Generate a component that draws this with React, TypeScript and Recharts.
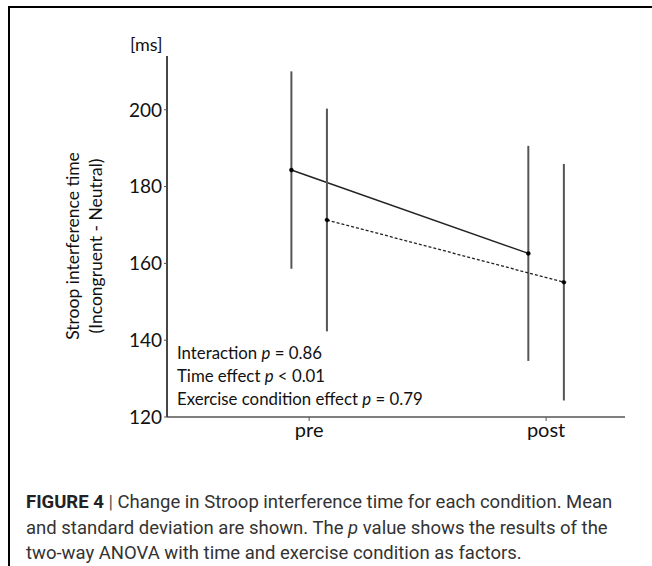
import { ComposedChart, Line, XAxis, YAxis, ErrorBar } from "recharts";

// values (ms)
const timeLabels = ["pre", "post"];
const timeIndex = [1, 2];
const exerciseMean = [184.3, 162.6];
const exerciseSd = [25.7, 28.0];
const controlMean = [171.3, 155.1];
const controlSd = [29.0, 30.8];
const yTicks = [120, 140, 160, 180, 200];

const dodge = 0.075;

const exerciseData = timeIndex.map((t, i) => ({ x: t - dodge, y: exerciseMean[i], sd: exerciseSd[i] }));
const controlData = timeIndex.map((t, i) => ({ x: t + dodge, y: controlMean[i], sd: controlSd[i] }));

const chartFont = "Lato, 'Open Sans', sans-serif";
const captionFont = "'Liberation Sans Narrow', Roboto, 'Liberation Sans', sans-serif";

export default function App() {
  return (
    <div style={{ position: "absolute", left: 0, top: 0, width: 652, height: 566, background: "#fff", overflow: "hidden" }}>
      {/* figure frame */}
      <div style={{ position: "absolute", left: 8, top: 6, width: 700, height: 600, borderLeft: "2px solid #000", borderTop: "2px solid #000" }} />

      <div style={{ position: "absolute", left: 0, top: 0 }}>
        <ComposedChart width={652} height={460} margin={{ top: 56, right: 27, left: 107, bottom: 13 }}>
          <XAxis
            type="number"
            dataKey="x"
            domain={[0.4, 2.333]}
            ticks={timeIndex}
            tickFormatter={(v: number) => timeLabels[v - 1]}
            allowDataOverflow
            height={30}
            axisLine={{ stroke: "#555", strokeWidth: 1.6 }}
            tickLine={{ stroke: "#555" }}
            tickSize={4}
            tick={{ fontSize: 20, fill: "#111", fontFamily: chartFont }}
          />
          <YAxis
            type="number"
            domain={[120, 214]}
            ticks={yTicks}
            allowDataOverflow
            width={60}
            axisLine={{ stroke: "#333", strokeWidth: 1.8 }}
            tickLine={{ stroke: "#555" }}
            tickSize={3}
            tickMargin={2}
            tick={{ fontSize: 19, fill: "#111", fontFamily: chartFont }}
          />
          <Line
            data={exerciseData}
            dataKey="y"
            stroke="#222"
            strokeWidth={1.5}
            dot={{ r: 2, fill: "#000", stroke: "#000", strokeWidth: 0.5 }}
            isAnimationActive={false}
          >
            <ErrorBar dataKey="sd" width={0} stroke="#555" strokeWidth={2} direction="y" />
          </Line>
          <Line
            data={controlData}
            dataKey="y"
            stroke="#222"
            strokeWidth={1.3}
            strokeDasharray="3 2"
            dot={{ r: 2, fill: "#000", stroke: "#000", strokeWidth: 0.5 }}
            isAnimationActive={false}
          >
            <ErrorBar dataKey="sd" width={0} stroke="#555" strokeWidth={2} direction="y" />
          </Line>
        </ComposedChart>
      </div>

      {/* unit */}
      <div style={{ position: "absolute", left: 130, top: 33, fontFamily: chartFont, fontSize: 18, color: "#111", lineHeight: "22px" }}>[ms]</div>

      {/* y axis title */}
      <div
        style={{
          position: "absolute",
          left: 84,
          top: 246,
          width: 260,
          transform: "translate(-50%, -50%) rotate(-90deg)",
          textAlign: "center",
          fontFamily: chartFont,
          fontSize: 17.5,
          lineHeight: "23px",
          color: "#111",
          whiteSpace: "nowrap",
        }}
      >
        Stroop interference time
        <br />
        (Incongruent - Neutral)
      </div>

      {/* statistics */}
      <div style={{ position: "absolute", left: 177, top: 341, fontFamily: chartFont, fontSize: 16.8, lineHeight: "23px", color: "#111", whiteSpace: "nowrap" }}>
        <div>Interaction <i>p</i> = 0.86</div>
        <div>Time effect <i>p</i> &lt; 0.01</div>
        <div>Exercise condition effect <i>p</i> = 0.79</div>
      </div>

      {/* caption */}
      <div style={{ position: "absolute", left: 26, top: 490, fontFamily: captionFont, fontSize: 18.5, lineHeight: "25.5px", color: "#333", whiteSpace: "nowrap" }}>
        <div>
          <b style={{ color: "#222" }}>FIGURE 4</b> <span style={{ color: "#555" }}>|</span> Change in Stroop interference time for each condition. Mean
        </div>
        <div>
          and standard deviation are shown. The <i>p</i> value shows the results of the
        </div>
        <div>two-way ANOVA with time and exercise condition as factors.</div>
      </div>
    </div>
  );
}
